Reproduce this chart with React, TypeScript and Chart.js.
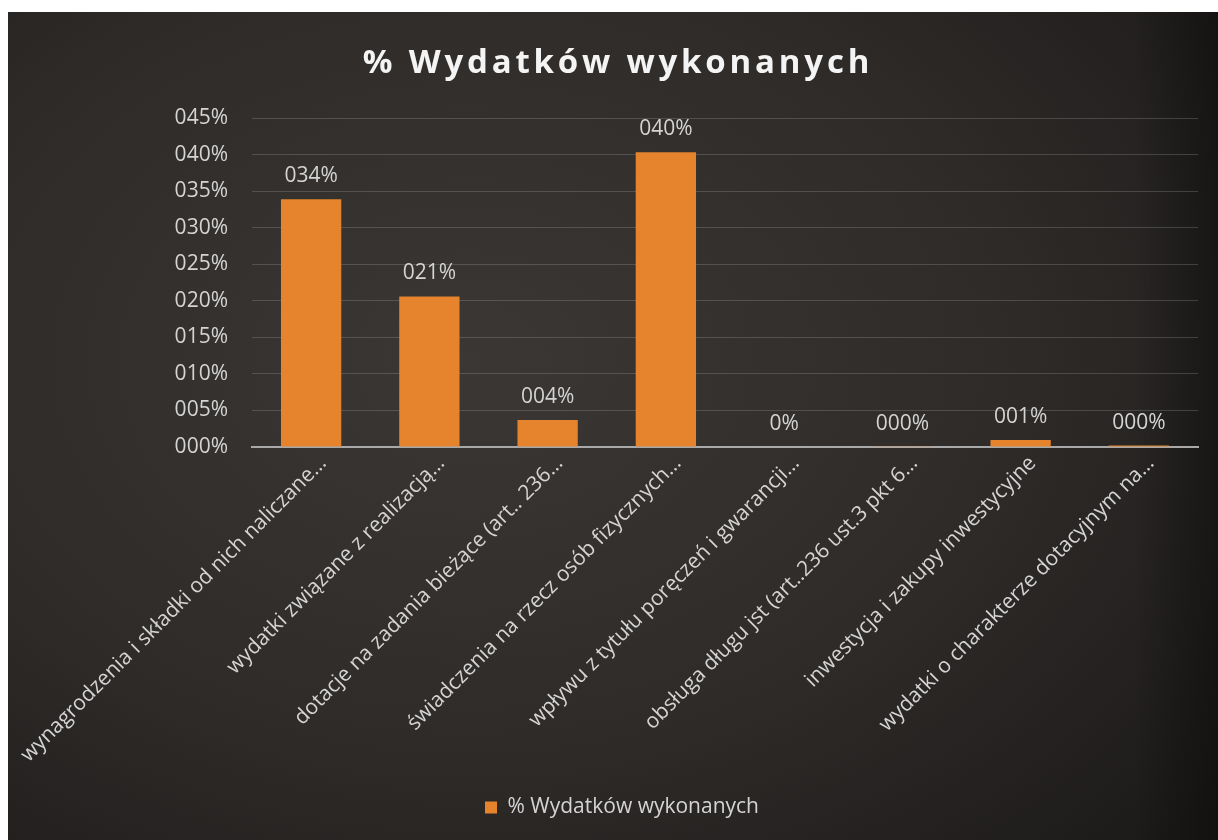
import React, { useEffect, useRef } from 'react';
import { Chart, registerables } from 'chart.js';

Chart.register(...registerables);

const TITLE = '% Wydatków wykonanych';
const SERIES_NAME = '% Wydatków wykonanych';
const CATEGORIES = [
  'wynagrodzenia i składki od nich naliczane…',
  'wydatki związane z realizacją…',
  'dotacje na zadania bieżące (art.. 236…',
  'świadczenia na rzecz osób fizycznych…',
  'wpływu z tytułu poręczeń i gwarancji…',
  'obsługa długu jst (art..236 ust.3 pkt 6…',
  'inwestycja i zakupy inwestycyjne',
  'wydatki o charakterze dotacyjnym na…',
];
const VALUES = [0.339, 0.206, 0.037, 0.403, 0, 0.0005, 0.0095, 0.002];
const Y_MIN = 0;
const Y_MAX = 0.45;
const Y_STEP = 0.05;

const FONT = '"Open Sans", sans-serif';
const TEXT_COLOR = '#d4d4d4';
const BAR_COLOR = '#e6832d';

const padPct = (v: number) => String(Math.round(v * 100)).padStart(3, '0') + '%';
const labelPct = (v: number) => (v === 0 ? '0%' : padPct(v));

const titlePlugin = {
  id: 'customTitle',
  afterDraw(chart: any) {
    const ctx = chart.ctx;
    ctx.save();
    ctx.font = `bold 33px ${FONT}`;
    (ctx as any).letterSpacing = '3.8px';
    ctx.fillStyle = '#f4f4f4';
    ctx.textAlign = 'center';
    ctx.textBaseline = 'alphabetic';
    ctx.fillText(TITLE, chart.width / 2 + 5, 61);
    ctx.restore();
  },
};

const dataLabelPlugin = {
  id: 'dataLabels',
  afterDatasetsDraw(chart: any) {
    const ctx = chart.ctx;
    const meta = chart.getDatasetMeta(0);
    ctx.save();
    ctx.font = `21px ${FONT}`;
    ctx.fillStyle = TEXT_COLOR;
    ctx.textAlign = 'center';
    ctx.textBaseline = 'alphabetic';
    meta.data.forEach((bar: any, i: number) => {
      ctx.fillText(labelPct(VALUES[i]), bar.x, bar.y - 17);
    });
    ctx.restore();
  },
};

export default function App() {
  const ref = useRef<HTMLCanvasElement | null>(null);

  useEffect(() => {
    if (!ref.current) return;
    const chart = new Chart(ref.current, {
      type: 'bar',
      data: {
        labels: CATEGORIES,
        datasets: [
          {
            label: SERIES_NAME,
            data: VALUES,
            backgroundColor: BAR_COLOR,
            borderWidth: 0,
            barPercentage: 0.51,
            categoryPercentage: 1,
          },
        ],
      },
      options: {
        responsive: false,
        animation: false,
        layout: { padding: { top: 106, left: 38, right: 20, bottom: 12 } },
        plugins: {
          title: { display: false },
          tooltip: { enabled: false },
          legend: {
            position: 'bottom',
            labels: {
              color: TEXT_COLOR,
              font: { family: FONT, size: 21 },
              boxWidth: 12,
              boxHeight: 12,
              padding: 10,
            },
          },
        },
        scales: {
          x: {
            grid: { display: false, drawTicks: false },
            border: { color: '#a9a9a9', width: 2 },
            ticks: {
              color: TEXT_COLOR,
              font: { family: FONT, size: 21 },
              minRotation: 45,
              maxRotation: 45,
              autoSkip: false,
              padding: 4,
              labelOffset: 12,
            },
            afterFit: (s: any) => {
              s.height = 340;
              s.paddingLeft = 0;
              s.paddingRight = 0;
            },
          },
          y: {
            min: Y_MIN,
            max: Y_MAX,
            ticks: {
              stepSize: Y_STEP,
              color: TEXT_COLOR,
              font: { family: FONT, size: 21 },
              padding: 24,
              callback: (v: any) => padPct(Number(v)),
            },
            grid: { color: 'rgba(190,190,190,0.24)', lineWidth: 1, drawTicks: false },
            border: { display: false },
            afterFit: (s: any) => {
              s.width = 206;
            },
          },
        },
      },
      plugins: [titlePlugin, dataLabelPlugin],
    } as any);
    return () => chart.destroy();
  }, []);

  return (
    <div
      style={{
        position: 'fixed',
        left: 8,
        top: 12,
        width: 1210,
        height: 828,
        background:
          'linear-gradient(90deg, rgba(0,0,0,0) 0%, rgba(0,0,0,0) 93%, rgba(0,0,0,0.35) 100%), radial-gradient(ellipse 80% 85% at 38% 42%, #3a3734 0%, #2e2b29 55%, #1c1a19 100%)',
      }}
    >
      <canvas ref={ref} width={1210} height={828} style={{ display: 'block' }} />
    </div>
  );
}
